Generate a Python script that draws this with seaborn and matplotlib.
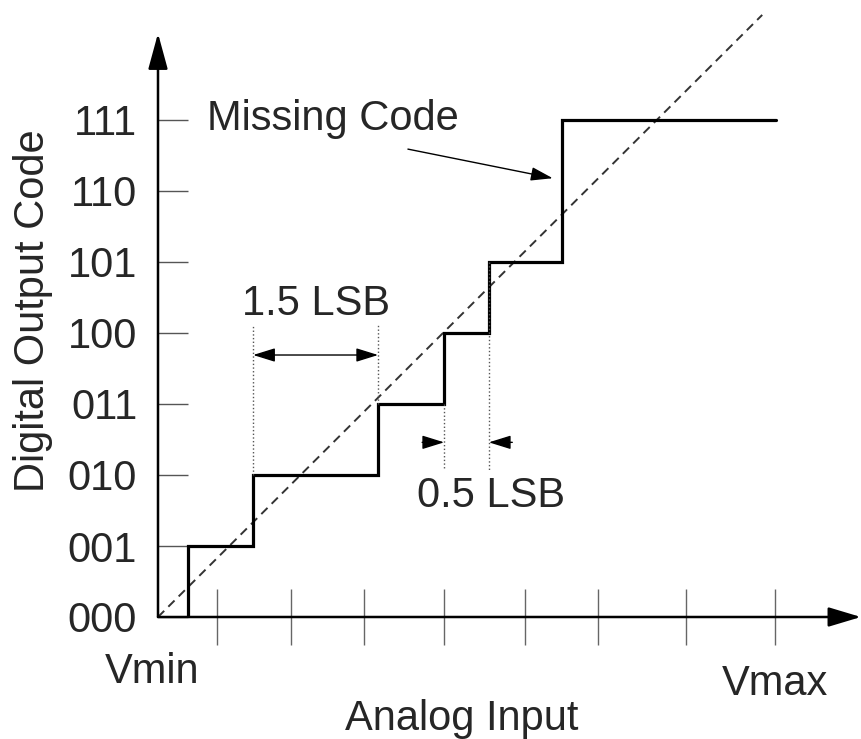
import matplotlib
matplotlib.use("Agg")
import matplotlib.pyplot as plt
import seaborn as sns
import pandas as pd

# ---- data (x in LSB units, y in output codes) ----
code_labels = ["000", "001", "010", "011", "100", "101", "110", "111"]
code_values = [0, 1, 2, 3, 4, 5, 6, 7]
step_x = [0.42, 0.42, 1.34, 3.10, 4.03, 4.66, 5.69, 8.70]
step_y = [0, 1, 2, 3, 4, 5, 7, 7]
ideal_x = [0.0, 8.51]
ideal_y = [0.0, 8.48]
tick_x = [0.83, 1.87, 2.90, 4.03, 5.17, 6.20, 7.44, 8.69]

sns.set_style("white")
plt.rcParams["font.family"] = ["Liberation Sans", "DejaVu Sans"]
FS = 30

fig = plt.figure(figsize=(8.62, 7.39), dpi=100)
ax = fig.add_axes([158 / 862, 122 / 739, 704 / 862, 617 / 739])
ax.set_xlim(0, 704 / 71)
ax.set_ylim(0, 617 / 71)
for s in ax.spines.values():
    s.set_visible(False)

steps = pd.DataFrame({"x": step_x, "y": step_y})
ideal = pd.DataFrame({"x": ideal_x, "y": ideal_y})
sns.lineplot(data=ideal, x="x", y="y", ax=ax, color="#333333", lw=1.4,
             linestyle=(0, (4.5, 3)), estimator=None, sort=False)
sns.lineplot(data=steps, x="x", y="y", ax=ax, color="black", lw=2.3,
             drawstyle="steps-post", estimator=None, sort=False,
             solid_joinstyle="miter")

# ticks
ax.set_yticks(code_values)
ax.set_yticklabels(code_labels, fontsize=FS)
ax.tick_params(axis="y", left=True, direction="in", length=21.6, width=1.0,
               color="#555555", pad=15, labelsize=FS)
ax.set_xticks(tick_x)
ax.set_xticklabels([""] * len(tick_x))
ax.tick_params(axis="x", bottom=True, direction="inout", length=40, width=1.0,
               color="#666666")
ax.set_xlabel("")
ax.set_ylabel("")

# axes with arrows
ax.annotate("", xy=(0, 8.22), xytext=(0, 0), annotation_clip=False,
            arrowprops=dict(arrowstyle="-|>,head_length=1.1,head_width=0.3",
                            lw=1.8, color="black", mutation_scale=20,
                            shrinkA=0, shrinkB=0))
ax.annotate("", xy=(9.9, 0), xytext=(0, 0), annotation_clip=False,
            arrowprops=dict(arrowstyle="-|>,head_length=1.0,head_width=0.3",
                            lw=1.8, color="black", mutation_scale=20,
                            shrinkA=0, shrinkB=0))

# 1.5 LSB annotation
t1, t2 = step_x[2], step_x[3]
ax.plot([t1, t1], [step_y[2], 4.11], color="#555555", lw=1.0, ls=":")
ax.plot([t2, t2], [step_y[3], 4.11], color="#555555", lw=1.0, ls=":")
ax.annotate("", xy=(t1, 3.69), xytext=(t2, 3.69),
            arrowprops=dict(arrowstyle="<|-|>,head_length=0.9,head_width=0.28",
                            lw=1.0, color="black", mutation_scale=15,
                            shrinkA=0, shrinkB=0))
ax.text(1.18, 4.25, "1.5 LSB", fontsize=FS, ha="left", va="baseline")

# 0.5 LSB annotation
t3, t4 = step_x[4], step_x[5]
ax.plot([t3, t3], [step_y[3], 2.07], color="#555555", lw=1.0, ls=":")
ax.plot([t4, t4], [step_y[5], 2.07], color="#555555", lw=1.0, ls=":")
ax.annotate("", xy=(t3, 2.46), xytext=(3.72, 2.46),
            arrowprops=dict(arrowstyle="-|>,head_length=0.9,head_width=0.28",
                            lw=1.0, color="black", mutation_scale=15,
                            shrinkA=0, shrinkB=0))
ax.annotate("", xy=(t4, 2.46), xytext=(4.99, 2.46),
            arrowprops=dict(arrowstyle="-|>,head_length=0.9,head_width=0.28",
                            lw=1.0, color="black", mutation_scale=15,
                            shrinkA=0, shrinkB=0))
ax.text(3.65, 1.55, "0.5 LSB", fontsize=FS, ha="left", va="baseline")

# Missing code annotation
ax.text(0.69, 6.86, "Missing Code", fontsize=FS, ha="left", va="baseline")
ax.annotate("", xy=(5.56, 6.18), xytext=(3.52, 6.59),
            arrowprops=dict(arrowstyle="-|>,head_length=0.9,head_width=0.28",
                            lw=1.0, color="black", mutation_scale=15,
                            shrinkA=0, shrinkB=0))

# axis texts
ax.text(0.59, -0.93, "Vmin", fontsize=FS, ha="right", va="baseline")
ax.text(7.94, -1.10, "Vmax", fontsize=FS, ha="left", va="baseline")
ax.text(2.63, -1.59, "Analog Input", fontsize=FS, ha="left", va="baseline")
ax.text(-1.76, 4.32, "Digital Output Code", fontsize=FS, rotation=90,
        ha="center", va="center")

fig.savefig("out.png", dpi=100)
